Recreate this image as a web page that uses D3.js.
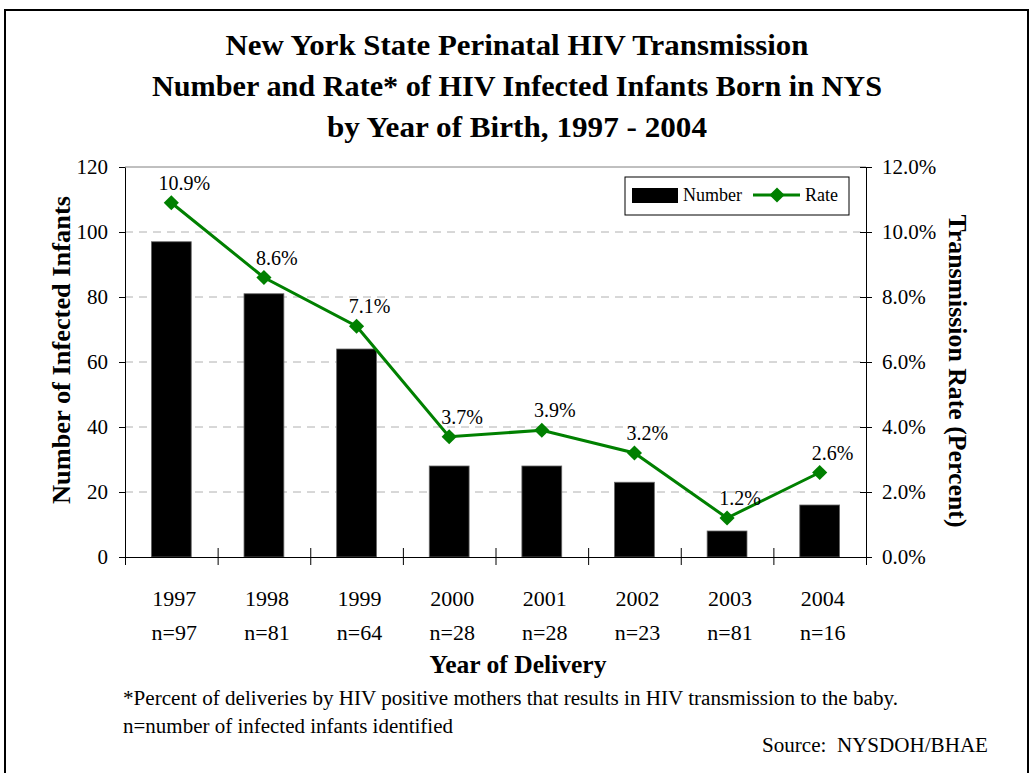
<!DOCTYPE html>
<html>
<head>
<meta charset="utf-8">
<script src="https://cdn.jsdelivr.net/npm/d3@7"></script>
<style>
  body { margin: 0; background: #fff; }
  svg text { font-family: "Liberation Serif", "Times New Roman", serif; fill: #000; }
</style>
</head>
<body>
<div class="svg-container"></div>
<script>
const years = ['1997', '1998', '1999', '2000', '2001', '2002', '2003', '2004'];
const nLabels = ['n=97', 'n=81', 'n=64', 'n=28', 'n=28', 'n=23', 'n=81', 'n=16'];
const infants = [97, 81, 64, 28, 28, 23, 8, 16];
const rates = [10.9, 8.6, 7.1, 3.7, 3.9, 3.2, 1.2, 2.6];
const leftTicks = [0, 20, 40, 60, 80, 100, 120];
const rightTicks = [0, 2, 4, 6, 8, 10, 12];
const titleLines = [
  'New York State Perinatal HIV Transmission',
  'Number and Rate* of HIV Infected Infants Born in NYS',
  'by Year of Birth, 1997 - 2004'
];

const width = 1035;
const height = 773;
const plot = { left: 125, right: 866, top: 167, bottom: 557 };
const green = '#008000';

const svg = d3.select('.svg-container')
  .append('svg')
  .attr('width', width)
  .attr('height', height);

// outer frame (bottom edge runs off the page)
svg.append('rect')
  .attr('x', 5).attr('y', 10)
  .attr('width', 1023).attr('height', 800)
  .attr('fill', 'none')
  .attr('stroke', '#000')
  .attr('stroke-width', 2);

// title
svg.append('g')
  .selectAll('text')
  .data(titleLines)
  .enter()
  .append('text')
  .attr('x', 517)
  .attr('y', (d, i) => 55 + i * 41)
  .attr('text-anchor', 'middle')
  .attr('font-size', 29)
  .attr('font-weight', 'bold')
  .attr('textLength', (d, i) => [583, 730, 380][i])
  .attr('lengthAdjust', 'spacingAndGlyphs')
  .text((d) => d);

const x = d3.scaleBand()
  .domain(years)
  .range([plot.left, plot.right])
  .paddingInner(0.57)
  .paddingOuter(0.285);

const yLeft = d3.scaleLinear().domain([0, 120]).range([plot.bottom, plot.top]);
const yRight = d3.scaleLinear().domain([0, 12]).range([plot.bottom, plot.top]);

// gridlines
svg.append('g')
  .selectAll('line')
  .data(leftTicks.filter((t) => t > 0 && t < 120))
  .enter()
  .append('line')
  .attr('x1', plot.left).attr('x2', plot.right)
  .attr('y1', (d) => yLeft(d)).attr('y2', (d) => yLeft(d))
  .attr('stroke', '#b0b0b0')
  .attr('stroke-dasharray', '8,6');

svg.append('line')
  .attr('x1', plot.left).attr('x2', plot.right)
  .attr('y1', plot.top).attr('y2', plot.top)
  .attr('stroke', '#808080');

// bars
svg.append('g')
  .selectAll('rect')
  .data(infants)
  .enter()
  .append('rect')
  .attr('x', (d, i) => x(years[i]))
  .attr('y', (d) => yLeft(d))
  .attr('width', x.bandwidth())
  .attr('height', (d) => yLeft(0) - yLeft(d))
  .attr('fill', '#000')
  .attr('stroke', '#666')
  .attr('stroke-width', 0.8);

// left axis
const leftAxis = svg.append('g')
  .attr('transform', `translate(${plot.left},0)`)
  .call(d3.axisLeft(yLeft).tickValues(leftTicks).tickSize(6).tickSizeOuter(0).tickPadding(11));
leftAxis.selectAll('text')
  .attr('font-size', 21)
  .style('font-family', '"Liberation Serif", serif');
leftAxis.select('.domain').attr('stroke', '#000');

// right axis, ticks cross the line
const rightAxis = svg.append('g')
  .attr('transform', `translate(${plot.right},0)`)
  .call(d3.axisRight(yRight).tickValues(rightTicks).tickSize(6).tickSizeOuter(0)
    .tickFormat((d) => d3.format('.1f')(d) + '%'));
rightAxis.selectAll('.tick line').attr('x1', -6).attr('x2', 6);
rightAxis.selectAll('text')
  .attr('x', 16)
  .attr('font-size', 21)
  .style('font-family', '"Liberation Serif", serif');

// bottom axis: ticks on the band edges
const edges = d3.range(years.length + 1);
const xEdge = d3.scaleLinear().domain([0, years.length]).range([plot.left, plot.right]);
const bottomAxis = svg.append('g')
  .attr('transform', `translate(0,${plot.bottom})`)
  .call(d3.axisBottom(xEdge).tickValues(edges).tickFormat('').tickSize(8).tickSizeOuter(0));
bottomAxis.selectAll('.tick line').attr('y1', -9);

// category labels
const catLabels = svg.append('g');
catLabels.selectAll('text.year')
  .data(years)
  .enter()
  .append('text')
  .attr('class', 'year')
  .attr('x', (d) => x(d) + x.bandwidth() / 2 + 3)
  .attr('y', 606)
  .attr('text-anchor', 'middle')
  .attr('font-size', 22)
  .text((d) => d);
catLabels.selectAll('text.n')
  .data(nLabels)
  .enter()
  .append('text')
  .attr('class', 'n')
  .attr('x', (d, i) => x(years[i]) + x.bandwidth() / 2 + 3)
  .attr('y', 640)
  .attr('text-anchor', 'middle')
  .attr('font-size', 22)
  .text((d) => d);

// rate line
const line = d3.line()
  .x((d, i) => x(years[i]) + x.bandwidth() / 2)
  .y((d) => yRight(d));

svg.append('path')
  .datum(rates)
  .attr('d', line)
  .attr('fill', 'none')
  .attr('stroke', green)
  .attr('stroke-width', 3);

const diamond = d3.symbol().type(d3.symbolSquare).size(115);
svg.append('g')
  .selectAll('path')
  .data(rates)
  .enter()
  .append('path')
  .attr('d', diamond)
  .attr('transform', (d, i) => `translate(${x(years[i]) + x.bandwidth() / 2},${yRight(d)}) rotate(45)`)
  .attr('fill', green);

svg.append('g')
  .selectAll('text')
  .data(rates)
  .enter()
  .append('text')
  .attr('x', (d, i) => x(years[i]) + x.bandwidth() / 2 + 13)
  .attr('y', (d) => yRight(d) - 13)
  .attr('text-anchor', 'middle')
  .attr('font-size', 20)
  .text((d) => d3.format('.1f')(d) + '%');

// legend
const legend = svg.append('g').attr('transform', 'translate(625,177)');
legend.append('rect')
  .attr('width', 224).attr('height', 38)
  .attr('fill', '#fff')
  .attr('stroke', '#000');
legend.append('rect')
  .attr('x', 7).attr('y', 11)
  .attr('width', 46).attr('height', 15)
  .attr('fill', '#000');
legend.append('text')
  .attr('x', 58).attr('y', 24)
  .attr('font-size', 18)
  .text('Number');
legend.append('line')
  .attr('x1', 128).attr('x2', 175)
  .attr('y1', 18).attr('y2', 18)
  .attr('stroke', green)
  .attr('stroke-width', 3);
legend.append('path')
  .attr('d', diamond)
  .attr('transform', 'translate(152,18) rotate(45)')
  .attr('fill', green);
legend.append('text')
  .attr('x', 180).attr('y', 24)
  .attr('font-size', 18)
  .text('Rate');

// axis titles
svg.append('text')
  .attr('transform', 'translate(70,350) rotate(-90)')
  .attr('text-anchor', 'middle')
  .attr('font-size', 25)
  .attr('font-weight', 'bold')
  .attr('textLength', 308)
  .attr('lengthAdjust', 'spacingAndGlyphs')
  .text('Number of Infected Infants');

svg.append('text')
  .attr('transform', 'translate(949,371) rotate(90)')
  .attr('text-anchor', 'middle')
  .attr('font-size', 25)
  .attr('font-weight', 'bold')
  .attr('textLength', 313)
  .attr('lengthAdjust', 'spacingAndGlyphs')
  .text('Transmission Rate (Percent)');

svg.append('text')
  .attr('x', 518).attr('y', 673)
  .attr('text-anchor', 'middle')
  .attr('font-size', 25)
  .attr('font-weight', 'bold')
  .attr('textLength', 177)
  .attr('lengthAdjust', 'spacingAndGlyphs')
  .text('Year of Delivery');

// notes
svg.append('text')
  .attr('x', 123).attr('y', 705)
  .attr('font-size', 20)
  .attr('textLength', 775)
  .attr('lengthAdjust', 'spacingAndGlyphs')
  .text('*Percent of deliveries by HIV positive mothers that results in HIV transmission to the baby.');
svg.append('text')
  .attr('x', 123).attr('y', 733)
  .attr('font-size', 20)
  .attr('textLength', 330)
  .attr('lengthAdjust', 'spacingAndGlyphs')
  .text('n=number of infected infants identified');
svg.append('text')
  .attr('x', 762).attr('y', 752)
  .attr('font-size', 20)
  .attr('textLength', 226)
  .attr('lengthAdjust', 'spacingAndGlyphs')
  .style('white-space', 'pre')
  .text('Source:  NYSDOH/BHAE');
</script>
</body>
</html>
